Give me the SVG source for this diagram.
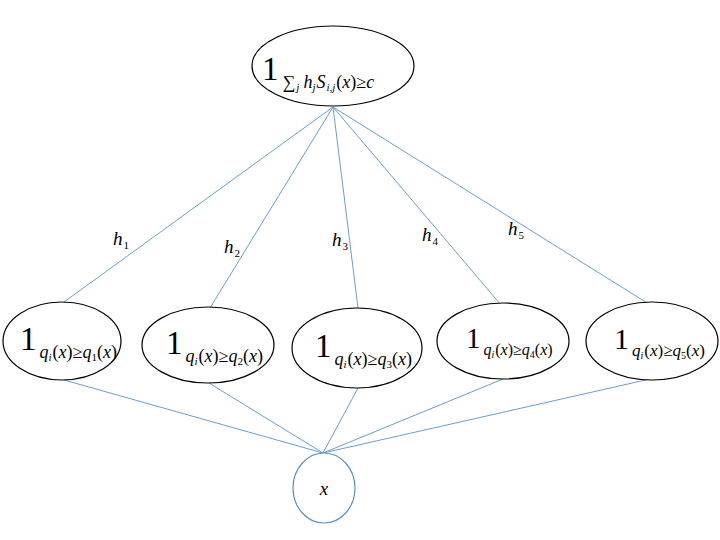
<svg xmlns="http://www.w3.org/2000/svg" width="720" height="540" viewBox="0 0 720 540" font-family="'Liberation Serif', 'DejaVu Serif', serif">
<style>
.n{fill:#fff;stroke:#000;stroke-width:1.2}
.c{fill:#fff;stroke:#5b8fc4;stroke-width:1.2}
.e{stroke:#6a9ecf;stroke-width:1;fill:none}
text,tspan{font-family:'Liberation Serif','DejaVu Serif',serif;fill:#000}
.one{font-size:33px;font-style:normal}
.s{font-size:18px;font-style:italic}
.r{font-size:18px;font-style:normal}
.ss{font-size:11px;font-style:italic}
.sr{font-size:11px;font-style:normal}
.h{font-size:19px;font-style:italic}
</style>
<rect width="720" height="540" fill="#fff"/>
<g id="connectors">
<line class="e" x1="333" y1="107" x2="64" y2="302"/>
<line class="e" x1="333" y1="107" x2="210" y2="308"/>
<line class="e" x1="333" y1="107" x2="358" y2="308"/>
<line class="e" x1="333" y1="107" x2="501" y2="305"/>
<line class="e" x1="333" y1="107" x2="652" y2="306"/>
<line class="e" x1="64" y1="380" x2="323" y2="453"/>
<line class="e" x1="209" y1="383" x2="323" y2="453"/>
<line class="e" x1="358" y1="388" x2="323" y2="453"/>
<line class="e" x1="503" y1="379" x2="323" y2="453"/>
<line class="e" x1="650" y1="379" x2="323" y2="453"/>
</g>
<g id="labels">
<text x="113" y="245" class="h">h<tspan class="sr" dx="1" dy="4">1</tspan></text>
<text x="224" y="253" class="h">h<tspan class="sr" dx="1" dy="4">2</tspan></text>
<text x="332" y="246" class="h">h<tspan class="sr" dx="1" dy="4">3</tspan></text>
<text x="422" y="241" class="h">h<tspan class="sr" dx="1" dy="4">4</tspan></text>
<text x="508" y="235" class="h">h<tspan class="sr" dx="1" dy="4">5</tspan></text>
</g>
<g id="top">
<ellipse class="n" cx="333" cy="66" rx="81" ry="40"/>
<text x="262" y="80"><tspan class="one">1</tspan><tspan class="r" dx="4" dy="8">∑</tspan><tspan class="ss" dx="1" dy="3">j</tspan><tspan class="s" dx="4" dy="-3">h</tspan><tspan class="ss" dy="3">j</tspan><tspan class="s" dx="1" dy="-3">S</tspan><tspan class="ss" dx="1" dy="3">i,j</tspan><tspan class="r" dx="1" dy="-3">(</tspan><tspan class="s">x</tspan><tspan class="r">)≥</tspan><tspan class="s">c</tspan></text>
</g>
<g id="n1">
<ellipse class="n" cx="62" cy="341" rx="59" ry="39"/>
<text x="20" y="350"><tspan class="one">1</tspan><tspan class="s" dx="3" dy="8">q</tspan><tspan class="ss" dy="3">i</tspan><tspan class="r" dx="1" dy="-3">(</tspan><tspan class="s">x</tspan><tspan class="r">)≥</tspan><tspan class="s">q</tspan><tspan class="sr" dy="3">1</tspan><tspan class="r" dy="-3">(</tspan><tspan class="s">x</tspan><tspan class="r">)</tspan></text>
</g>
<g id="n2">
<ellipse class="n" cx="208" cy="345" rx="66" ry="38"/>
<text x="166" y="354"><tspan class="one">1</tspan><tspan class="s" dx="3" dy="8">q</tspan><tspan class="ss" dy="3">i</tspan><tspan class="r" dx="1" dy="-3">(</tspan><tspan class="s">x</tspan><tspan class="r">)≥</tspan><tspan class="s">q</tspan><tspan class="sr" dy="3">2</tspan><tspan class="r" dy="-3">(</tspan><tspan class="s">x</tspan><tspan class="r">)</tspan></text>
</g>
<g id="n3">
<ellipse class="n" cx="357" cy="348" rx="65" ry="40"/>
<text x="315" y="357"><tspan class="one">1</tspan><tspan class="s" dx="3" dy="8">q</tspan><tspan class="ss" dy="3">i</tspan><tspan class="r" dx="1" dy="-3">(</tspan><tspan class="s">x</tspan><tspan class="r">)≥</tspan><tspan class="s">q</tspan><tspan class="sr" dy="3">3</tspan><tspan class="r" dy="-3">(</tspan><tspan class="s">x</tspan><tspan class="r">)</tspan></text>
</g>
<g id="n4">
<ellipse class="n" cx="503" cy="341" rx="66" ry="38"/>
<text x="466" y="348"><tspan class="one" style="font-size:29px">1</tspan><tspan class="s" style="font-size:16px" dx="3" dy="7">q</tspan><tspan class="ss" style="font-size:10px" dy="3">i</tspan><tspan class="r" style="font-size:16px" dx="1" dy="-3">(</tspan><tspan class="s" style="font-size:16px">x</tspan><tspan class="r" style="font-size:16px">)≥</tspan><tspan class="s" style="font-size:16px">q</tspan><tspan class="sr" style="font-size:10px" dy="3">4</tspan><tspan class="r" style="font-size:16px" dy="-3">(</tspan><tspan class="s" style="font-size:16px">x</tspan><tspan class="r" style="font-size:16px">)</tspan></text>
</g>
<g id="n5">
<ellipse class="n" cx="652" cy="341" rx="66" ry="39"/>
<text x="614" y="349"><tspan class="one" style="font-size:30px">1</tspan><tspan class="s" style="font-size:17px" dx="3" dy="7">q</tspan><tspan class="ss" style="font-size:10px" dy="3">i</tspan><tspan class="r" style="font-size:17px" dx="1" dy="-3">(</tspan><tspan class="s" style="font-size:17px">x</tspan><tspan class="r" style="font-size:17px">)≥</tspan><tspan class="s" style="font-size:17px">q</tspan><tspan class="sr" style="font-size:10px" dy="3">5</tspan><tspan class="r" style="font-size:17px" dy="-3">(</tspan><tspan class="s" style="font-size:17px">x</tspan><tspan class="r" style="font-size:17px">)</tspan></text>
</g>
<g id="x">
<ellipse class="c" cx="324" cy="488" rx="31" ry="35"/>
<text x="324" y="495" class="h" text-anchor="middle">x</text>
</g>
</svg>
